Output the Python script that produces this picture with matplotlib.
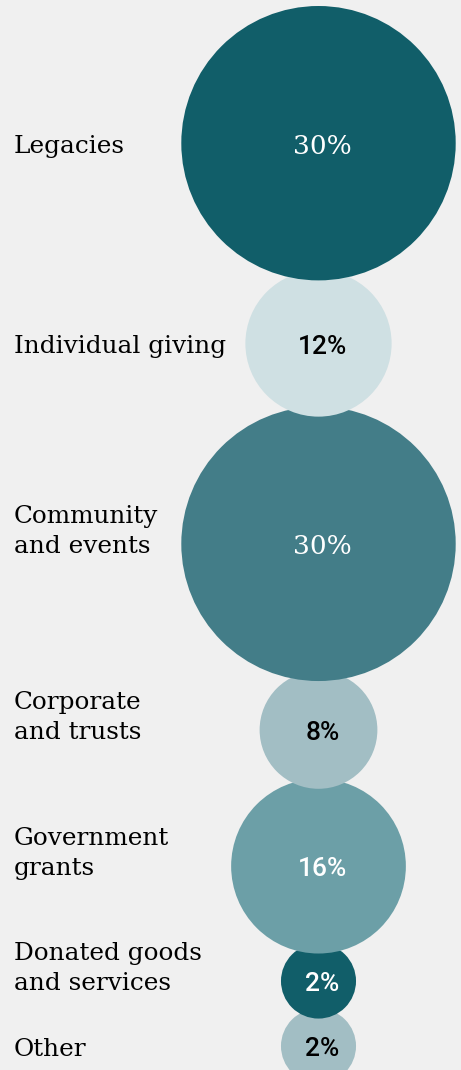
import matplotlib
matplotlib.use("Agg")
import matplotlib.pyplot as plt
from matplotlib.patches import Circle

# Income sources and their share (%)
categories = ["Legacies", "Individual giving", "Community\nand events",
              "Corporate\nand trusts", "Government\ngrants",
              "Donated goods\nand services", "Other"]
values = [30, 12, 30, 8, 16, 2, 2]
colors = ["#115e69", "#cfe0e3", "#437d88", "#a2bec4", "#6c9fa7", "#115e69", "#a2bec4"]
text_colors = ["white", "black", "white", "black", "white", "white", "black"]

bg = "#f0f0f0"
fig = plt.figure(figsize=(4.61, 10.70), dpi=100, facecolor=bg)
ax = fig.add_axes([0, 0, 1, 1])
ax.set_xlim(0, 461)
ax.set_ylim(1070, 0)
ax.set_aspect("equal")
ax.axis("off")
ax.set_facecolor(bg)

def radius(v):
    # bubble radius in px, grows linearly with share
    return 30.4 + 3.56 * v

cx = 318.5
overlap = 10
y = 6
prev_r = None
n = len(values)
for i, (cat, v, c, tc) in enumerate(zip(categories, values, colors, text_colors)):
    r = radius(v)
    if prev_r is None:
        cy = y + r
    else:
        cy = cy + prev_r + r - overlap
    prev_r = r
    # earlier bubbles sit on top of later ones
    ax.add_patch(Circle((cx, cy), r, facecolor=c, edgecolor="none", zorder=10 + n - i))

    ty = cy + 3
    if v == 30:
        ax.text(cx + 4, ty, f"{v}%", ha="center", va="center", color=tc,
                fontsize=19, family="DejaVu Serif", zorder=30)
    else:
        ax.text(cx + 4, ty, f"{v}%", ha="center", va="center", color=tc,
                fontsize=19, family="Roboto", fontweight="medium", zorder=30)

    nlines = cat.count("\n") + 1
    ax.text(14, ty - (nlines - 1) * 15.5, cat, ha="left", va="center",
            fontsize=17.8, family="DejaVu Serif", color="black",
            linespacing=1.38, zorder=30)

fig.savefig("out.png", dpi=100, facecolor=bg)
